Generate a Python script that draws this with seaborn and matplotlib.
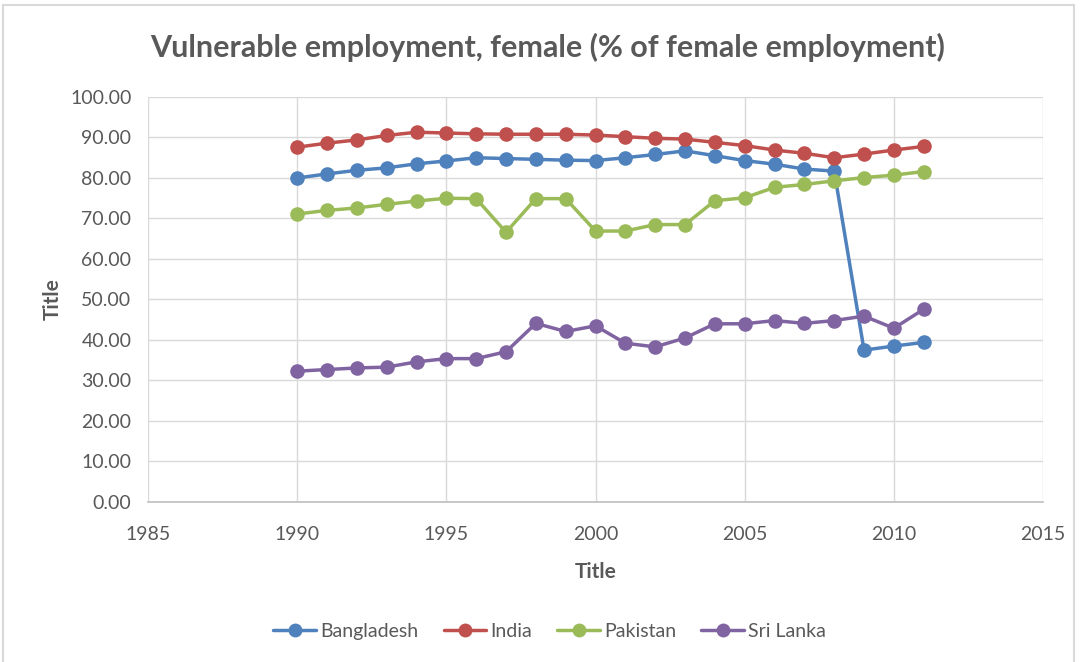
import matplotlib
matplotlib.use("Agg")
import matplotlib.pyplot as plt
import seaborn as sns
import pandas as pd
import numpy as np

years = list(range(1990, 2012))
bangladesh = [80.0, 81.0, 81.9, 82.5, 83.5, 84.2, 85.0, 84.8, 84.6, 84.4,
              84.3, 85.0, 85.8, 86.7, 85.5, 84.3, 83.4, 82.2, 81.7, 37.5, 38.5, 39.4]
india = [87.6, 88.6, 89.4, 90.5, 91.3, 91.1, 90.9, 90.8, 90.8, 90.8,
         90.6, 90.2, 89.8, 89.6, 88.8, 88.0, 86.9, 86.1, 85.0, 85.9, 86.9, 87.8]
pakistan = [71.1, 72.0, 72.6, 73.5, 74.3, 75.0, 74.9, 66.6, 74.9, 74.9,
            66.9, 66.9, 68.5, 68.5, 74.4, 75.1, 77.7, 78.4, 79.3, 80.1, 80.7, 81.6]
sri_lanka = [32.3, 32.7, 33.1, 33.3, 34.6, 35.4, 35.4, 37.1, 44.1, 42.1,
             43.5, 39.2, 38.3, 40.5, 44.0, 44.0, 44.8, 44.1, 44.8, 45.9, 42.9, 47.6]
countries = ["Bangladesh", "India", "Pakistan", "Sri Lanka"]
colors = ["#4F81BD", "#C0504D", "#9BBB59", "#8064A2"]

df = pd.DataFrame({
    "Year": years * 4,
    "Value": bangladesh + india + pakistan + sri_lanka,
    "Country": [c for c in countries for _ in years],
})

sns.set_theme(style="white")
plt.rcParams["font.family"] = ["Lato", "DejaVu Sans"]

text_grey = "#595959"
fig = plt.figure(figsize=(10.82, 6.62), dpi=100)
ax = fig.add_axes([0.1368, 0.2417, 0.9640 - 0.1368, 0.8535 - 0.2417])

sns.lineplot(data=df, x="Year", y="Value", hue="Country", hue_order=countries,
             palette=colors, marker="o", markersize=10.5, markeredgewidth=0,
             linewidth=2.5, ax=ax, legend=False)

ax.set_xlim(1985, 2015)
ax.set_ylim(0, 100)
ax.set_xticks(np.arange(1985, 2016, 5))
ax.set_yticks(np.arange(0, 101, 10))
ax.set_yticklabels([f"{v:.2f}" for v in np.arange(0, 101, 10)])
ax.grid(True, color="#D9D9D9", linewidth=1)
for side in ["top", "right", "left"]:
    ax.spines[side].set_visible(False)
ax.spines["bottom"].set_color("#BFBFBF")
ax.spines["bottom"].set_linewidth(1.2)
ax.tick_params(axis="x", length=0, labelsize=14, labelcolor=text_grey, pad=17)
ax.tick_params(axis="y", length=0, labelsize=14, labelcolor=text_grey, pad=12)

ax.set_xlabel("Title", fontsize=15, fontweight="bold", color=text_grey, labelpad=14)
ax.set_ylabel("Title", fontsize=15, fontweight="bold", color=text_grey, labelpad=5)
fig.text(0.506, 0.928, "Vulnerable employment, female (% of female employment)",
         ha="center", va="center", fontsize=22, fontweight="bold", color=text_grey)

handles = [plt.Line2D([0], [0], color=c, marker="o", markersize=10, linewidth=2.5,
                      markeredgewidth=0) for c in colors]
fig.legend(handles, countries, loc="center", bbox_to_anchor=(0.508, 0.046), ncol=4,
           frameon=False, fontsize=14, labelcolor=text_grey, handlelength=2.2,
           handletextpad=0.2, columnspacing=1.3)

# light chart-area frame
fig.add_artist(plt.Rectangle((0.003, -0.01), 0.99, 1.002, transform=fig.transFigure,
                             fill=False, edgecolor="#D9D9D9", linewidth=1.5))

fig.savefig("out.png", dpi=100, facecolor="white")
